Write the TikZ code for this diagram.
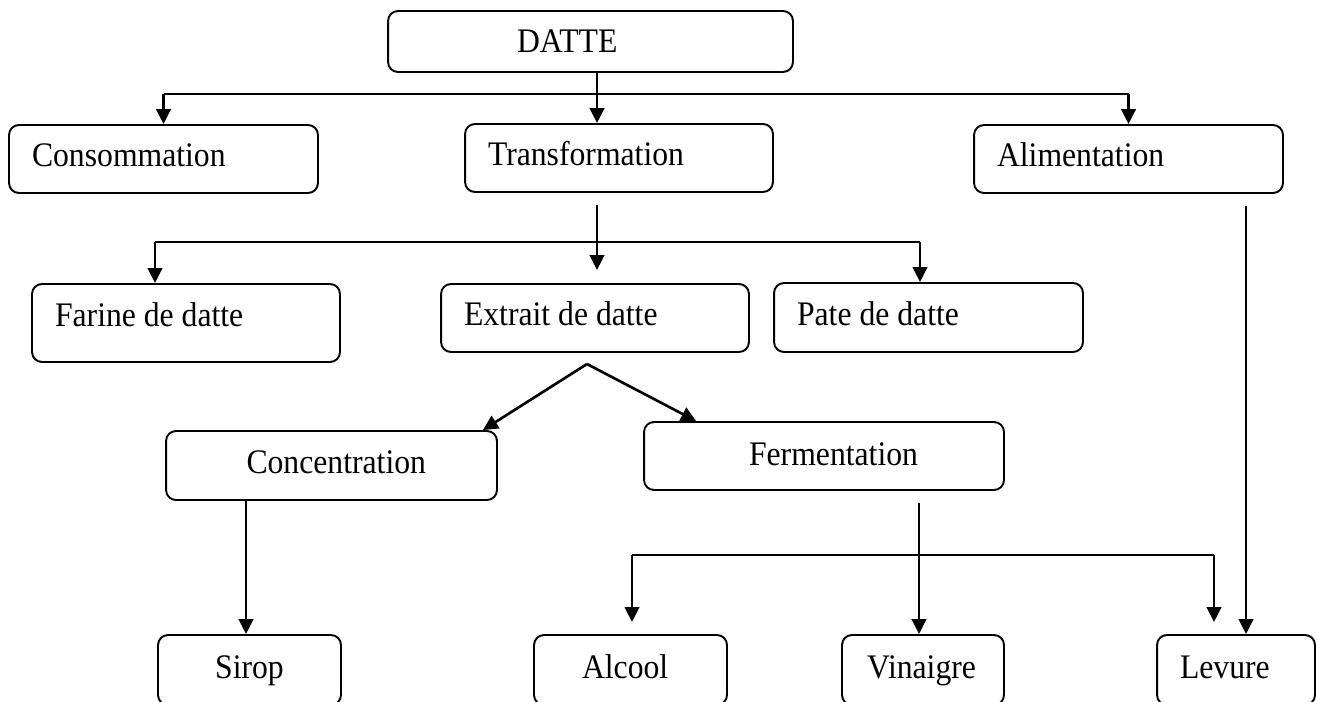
\documentclass[tikz,border=0pt]{standalone}
\usepackage{fontspec}
\setmainfont{Liberation Serif}[FakeStretch=0.92]
\usetikzlibrary{arrows.meta,calc}

\tikzset{
  box/.style={draw, line width=1.1pt, rounded corners=0.2cm,
    font=\fontsize{19.6}{23}\selectfont, minimum height=1.36cm,
    text height=0.5cm, text depth=0.18cm},
  lbox/.style={box, align=flush left, inner xsep=0.46cm},
  rbox/.style={box, align=flush right},
  bar/.style={line width=1.1pt},
  arr/.style={line width=1.5pt, -{Triangle[length=0.3cm,width=0.29cm]}}
}

\begin{document}
\begin{tikzpicture}[x=0.02cm, y=-0.02cm]
  \useasboundingbox (0,0) rectangle (1317,702);
  \clip (0,0) rectangle (1317,702);

  % Drawing boxes
  \node[lbox, inner xsep=2.58cm, text width=2.94cm, minimum height=1.22cm, text depth=0.04cm] (datte) at (590.5,41.5) {DATTE};

  \node[lbox, text width=5.26cm] (cons) at (163.5,159) {Consommation};
  \node[lbox, text width=5.24cm] (trans) at (619,158) {Transformation};
  \node[lbox, text width=5.26cm] (alim) at (1128.5,159) {Alimentation};

  \node[lbox, text width=5.24cm, minimum height=1.56cm, text depth=0.38cm] (farine) at (186,323) {Farine de datte};
  \node[lbox, text width=5.24cm] (extrait) at (595,318) {Extrait de datte};
  \node[lbox, text width=5.26cm, minimum height=1.38cm] (pate) at (928.5,317.5) {Pate de datte};

  \node[rbox, inner xsep=1.42cm, text width=3.78cm, minimum height=1.38cm] (conc) at (331.5,465.5) {Concentration};
  \node[rbox, inner xsep=1.72cm, text width=3.76cm, text depth=0.14cm] (ferm) at (824,456) {Fermentation};

  \node[box, minimum width=3.66cm, minimum height=1.4cm] (sirop) at (249.5,670) {Sirop};
  \node[lbox, inner xsep=0.96cm, text width=1.94cm, minimum height=1.4cm] (alcool) at (630.5,670) {Alcool};
  \node[lbox, inner xsep=0.5cm, text width=2.24cm, minimum height=1.4cm] (vin) at (923,670) {Vinaigre};
  \node[lbox, text width=2.24cm, minimum height=1.4cm] (lev) at (1236,670) {Levure};

  % Drawing branch from DATTE
  \coordinate (d1) at (597,94);
  \draw[arr] (datte.south -| d1) -- (trans.north -| d1);
  \draw[bar] (cons.north |- d1) -- (alim.north |- d1);
  \draw[arr] (cons.north |- d1) -- (cons.north);
  \draw[arr] (alim.north |- d1) -- (alim.north);

  % Drawing branch from Transformation
  \coordinate (t1) at (597,205);
  \coordinate (t2) at (597,270);
  \coordinate (f1) at (155,242);
  \coordinate (p1) at (920,242);
  \draw[arr] (t1) -- (t2);
  \draw[bar] (f1) -- (p1);
  \draw[arr] (f1) -- (f1 |- farine.north);
  \draw[arr] (p1) -- (p1 |- pate.north);

  % Drawing branch from Extrait de datte
  \coordinate (e1) at (587,364);
  \draw[arr] (e1) -- ($(conc.north east)+(-15,0)$);
  \draw[arr] (e1) -- ($(ferm.north west)+(53,0)$);

  % Drawing Concentration to Sirop
  \draw[arr] (conc.south -| 246,0) -- (sirop.north -| 246,0);

  % Drawing branch from Fermentation
  \coordinate (g1) at (919,503);
  \coordinate (a1) at (632,555);
  \coordinate (l1) at (1214,555);
  \draw[arr] (g1) -- (g1 |- vin.north);
  \draw[bar] (a1) -- (l1);
  \draw[arr] (a1) -- (632,622);
  \draw[arr] (l1) -- (1214,622);

  % Drawing Alimentation to Levure
  \coordinate (m1) at (1246,206);
  \draw[arr] (m1) -- (m1 |- lev.north);
\end{tikzpicture}
\end{document}
